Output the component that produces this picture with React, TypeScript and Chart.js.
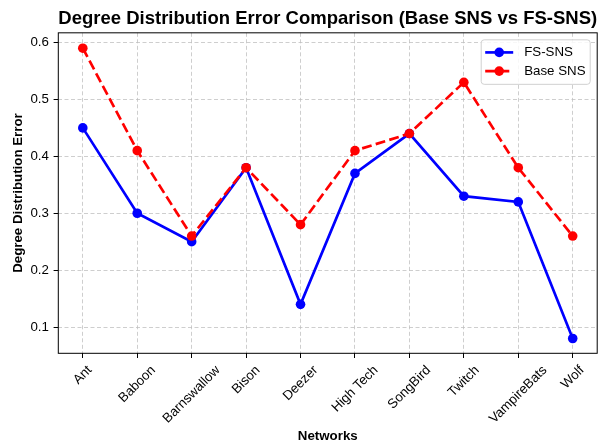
import React, { useEffect, useRef } from "react";
import { Chart, registerables } from "chart.js";

Chart.register(...registerables);

const categories = ["Ant", "Baboon", "Barnswallow", "Bison", "Deezer", "High Tech", "SongBird", "Twitch", "VampireBats", "Wolf"];
const fsSnsValues = [0.45, 0.30, 0.25, 0.38, 0.14, 0.37, 0.44, 0.33, 0.32, 0.08];
const baseSnsValues = [0.59, 0.41, 0.26, 0.38, 0.28, 0.41, 0.44, 0.53, 0.38, 0.26];
const yTickValues = [0.1, 0.2, 0.3, 0.4, 0.5, 0.6];
const seriesNames = ["FS-SNS", "Base SNS"];
const chartTitle = "Degree Distribution Error Comparison (Base SNS vs FS-SNS)";
const xTitle = "Networks";
const yTitle = "Degree Distribution Error";

const FONT = '"Liberation Sans", Arial, Helvetica, sans-serif';
const GRID = "rgba(190,190,190,0.75)";
const GRID_DASH = [4, 2.5];
const RED_DASH = [9.9, 4.3];

export default function App() {
  const ref = useRef<HTMLCanvasElement>(null);

  useEffect(() => {
    const canvas = ref.current!;
    const extras = {
      id: "mplExtras",
      afterDraw(chart: any) {
        const ctx = chart.ctx as CanvasRenderingContext2D;
        const { left, right, top, bottom } = chart.chartArea;
        const xs = chart.scales.x;
        ctx.save();
        // frame (all four spines)
        ctx.setLineDash([]);
        ctx.strokeStyle = "#000";
        ctx.lineWidth = 1;
        ctx.strokeRect(left, top, right - left, bottom - top);

        // rotated x tick labels, centred on tick
        const fs = 13.3;
        ctx.font = `${fs}px ${FONT}`;
        ctx.fillStyle = "#000";
        ctx.textAlign = "center";
        ctx.textBaseline = "middle";
        const h = fs * 1.15;
        const y0 = bottom + 9.4;
        categories.forEach((c, i) => {
          const w = ctx.measureText(c).width;
          const bb = (w + h) / Math.SQRT2;
          const cx = xs.getPixelForValue(i);
          ctx.save();
          ctx.translate(cx, y0 + bb / 2);
          ctx.rotate(-Math.PI / 4);
          ctx.fillText(c, 0, 0);
          ctx.restore();
        });

        // legend
        const lw = 109;
        const lh = 44.5;
        const lx = right - 7 - lw;
        const ly = top + 7;
        ctx.beginPath();
        const r = 3;
        ctx.moveTo(lx + r, ly);
        ctx.lineTo(lx + lw - r, ly);
        ctx.quadraticCurveTo(lx + lw, ly, lx + lw, ly + r);
        ctx.lineTo(lx + lw, ly + lh - r);
        ctx.quadraticCurveTo(lx + lw, ly + lh, lx + lw - r, ly + lh);
        ctx.lineTo(lx + r, ly + lh);
        ctx.quadraticCurveTo(lx, ly + lh, lx, ly + lh - r);
        ctx.lineTo(lx, ly + r);
        ctx.quadraticCurveTo(lx, ly, lx + r, ly);
        ctx.closePath();
        ctx.fillStyle = "rgba(255,255,255,0.85)";
        ctx.fill();
        ctx.strokeStyle = "#d0d0d0";
        ctx.lineWidth = 1;
        ctx.stroke();

        const ds = chart.data.datasets;
        const rows = [ds[0], ds[1]];
        rows.forEach((d: any, i: number) => {
          const yy = ly + 12.6 + i * 18.7;
          ctx.save();
          ctx.strokeStyle = d.borderColor;
          ctx.lineWidth = d.borderWidth;
          ctx.setLineDash(d.borderDash || []);
          ctx.beginPath();
          ctx.moveTo(lx + 4, yy);
          ctx.lineTo(lx + 32, yy);
          ctx.stroke();
          ctx.setLineDash([]);
          ctx.fillStyle = d.borderColor;
          ctx.beginPath();
          ctx.arc(lx + 18, yy, d.pointRadius, 0, Math.PI * 2);
          ctx.fill();
          ctx.restore();
          ctx.font = `${fs}px ${FONT}`;
          ctx.fillStyle = "#000";
          ctx.textAlign = "left";
          ctx.textBaseline = "middle";
          ctx.fillText(d.label, lx + 43, yy);
        });
        ctx.restore();
      },
    };

    const gridOpts = {
      color: GRID,
      lineWidth: 1,
      drawTicks: true,
      tickLength: 4.7,
      tickColor: "#000",
      tickWidth: 1,
      tickBorderDash: [],
    };

    const chart = new Chart(canvas, {
      type: "line",
      data: {
        datasets: [
          {
            label: seriesNames[0],
            data: fsSnsValues.map((v, i) => ({ x: i, y: v })),
            borderColor: "#0000ff",
            backgroundColor: "#0000ff",
            pointBackgroundColor: "#0000ff",
            borderWidth: 2.67,
            pointRadius: 4.8,
            pointBorderWidth: 0,
            tension: 0,
            order: 1,
          },
          {
            label: seriesNames[1],
            data: baseSnsValues.map((v, i) => ({ x: i, y: v })),
            borderColor: "#ff0000",
            backgroundColor: "#ff0000",
            pointBackgroundColor: "#ff0000",
            borderWidth: 2.67,
            borderDash: RED_DASH,
            pointRadius: 4.8,
            pointBorderWidth: 0,
            tension: 0,
            order: 0,
          },
        ],
      },
      options: {
        animation: false,
        responsive: false,
        devicePixelRatio: 1,
        events: [],
        layout: { padding: { left: 0, right: 4, top: 0, bottom: 0 } },
        plugins: {
          legend: { display: false },
          tooltip: { enabled: false },
          title: {
            display: true,
            text: chartTitle,
            fullSize: false,
            color: "#000",
            font: { size: 18.6, weight: "bold", family: FONT, lineHeight: 1.2 },
            padding: { top: 7.4, bottom: 3.1 },
          },
        },
        scales: {
          x: {
            type: "linear",
            min: -0.45,
            max: 9.45,
            afterBuildTicks: (s: any) => {
              s.ticks = categories.map((_, i) => ({ value: i }));
            },
            afterFit: (s: any) => {
              s.height = 90.7;
            },
            ticks: { display: false },
            grid: gridOpts,
            border: { display: false, dash: GRID_DASH },
            title: {
              display: true,
              text: xTitle,
              color: "#000",
              font: { size: 13.3, weight: "bold", family: FONT, lineHeight: 1.2 },
              padding: { top: 0, bottom: 0 },
            },
          },
          y: {
            type: "linear",
            min: 0.054,
            max: 0.617,
            afterBuildTicks: (s: any) => {
              s.ticks = yTickValues.map((v) => ({ value: v }));
            },
            afterFit: (s: any) => {
              s.width = 58.3;
            },
            ticks: {
              color: "#000",
              autoSkip: false,
              padding: 4.7,
              font: { size: 13.3, family: FONT },
              callback: (v: any) => Number(v).toFixed(1),
            },
            grid: gridOpts,
            border: { display: false, dash: GRID_DASH },
            title: {
              display: true,
              text: yTitle,
              color: "#000",
              font: { size: 13.3, weight: "bold", family: FONT, lineHeight: 1.2 },
              padding: { top: 10.3, bottom: 0 },
            },
          },
        },
      } as any,
      plugins: [extras],
    });
    return () => chart.destroy();
  }, []);

  return (
    <div style={{ position: "absolute", left: 0, top: 0, width: 602, height: 444, background: "#fff" }}>
      <canvas ref={ref} width={602} height={444} style={{ display: "block" }} />
    </div>
  );
}
